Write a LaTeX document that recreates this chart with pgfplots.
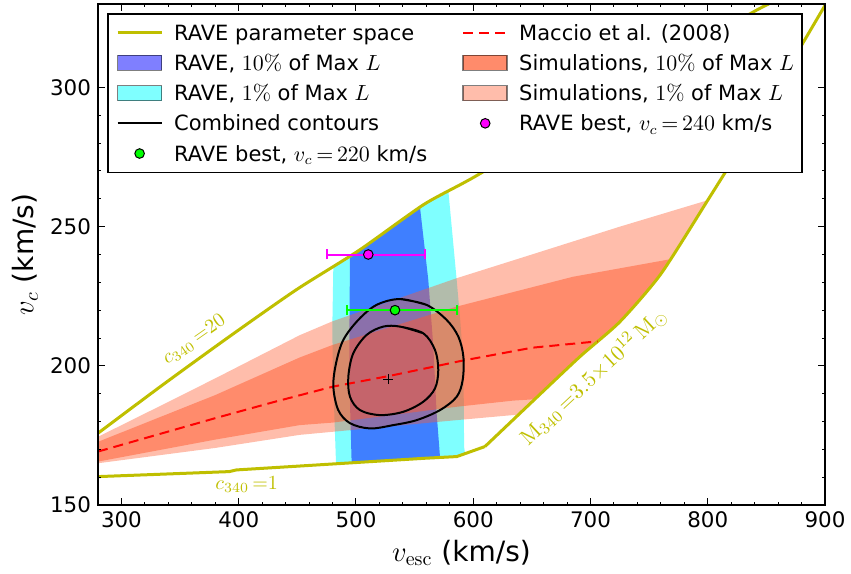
\documentclass[border=0pt]{standalone}
\usepackage[no-math]{fontspec}
\setmainfont{DejaVu Sans}
\usepackage{pgfplots}
\pgfplotsset{compat=1.18}
\definecolor{yel}{RGB}{191,191,0}
\definecolor{simc}{RGB}{255,90,45}
\definecolor{cyanc}{RGB}{0,255,255}
\definecolor{bluec}{RGB}{0,0,255}
\definecolor{magc}{RGB}{255,0,255}
\definecolor{greenc}{RGB}{0,255,0}
\definecolor{redc}{RGB}{255,0,0}
\pgfplotsset{
  linelegend/.style={legend image code/.code={\draw[##1] (0pt,0pt) -- (22pt,0pt);}},
  arealegend/.style={legend image code/.code={\draw[##1] (0pt,-3.75pt) rectangle (22pt,3.75pt);}},
  marklegend/.style={legend image code/.code={\path[draw=none,fill=none] (0pt,-3.75pt) rectangle (22pt,3.75pt); \draw[##1] plot coordinates {(11pt,0pt)};}},
}
\begin{document}
\begin{tikzpicture}
\begin{axis}[
  scale only axis, width=363.5pt, height=250.5pt,
  xmin=280, xmax=900, ymin=150, ymax=330,
  xtick={300,400,...,900}, ytick={150,200,250,300},
  minor x tick num=4, minor y tick num=4,
  tick align=inside, tick pos=both,
  major tick length=3.5pt, minor tick length=1.75pt,
  every tick/.style={black, line width=0.5pt},
  axis line style={line width=1pt},
  axis on top,
  ticklabel style={font=\fontsize{10.7}{12}\selectfont},
  /pgf/number format/assume math mode=true,
  label style={font=\fontsize{14}{16}\selectfont},
  xlabel={$v_{\mathrm{esc}}$ (km/s)},
  ylabel={$v_c$ (km/s)},
  xlabel style={at={(axis description cs:0.5,0)}, anchor=center, yshift=-24pt},
  ylabel style={at={(axis description cs:-0.1004,0.5)}, anchor=center},
  legend columns=2, legend cell align=left,
  legend style={
    at={(axis description cs:0.0128,0.982)}, anchor=north west,
    draw=black, line width=0.8pt,
    inner xsep=4pt, inner ysep=4.2pt,
    font=\fontsize{10.5}{12}\selectfont,
    nodes={inner sep=0pt, text height=9pt, text depth=1.5pt},
    row sep=4.6pt,
    /tikz/column 1/.append style={column sep=5.5pt},
    /tikz/column 2/.append style={column sep=17.5pt},
    /tikz/column 3/.append style={column sep=5.5pt},
  },
]
% ---- legend (row-wise order) ----
\addlegendimage{linelegend, yel, line width=1.5pt}
\addlegendentry{RAVE parameter space}
\addlegendimage{linelegend, redc, dash pattern=on 5pt off 3pt, line width=1pt}
\addlegendentry{Maccio et al. (2008)}
\addlegendimage{arealegend, fill=bluec, fill opacity=0.5, draw=black, draw opacity=0.5, line width=0.8pt}
\addlegendentry{RAVE, $10\%$ of Max $L$}
\addlegendimage{arealegend, fill=simc, fill opacity=0.7, draw=black, draw opacity=0.5, line width=0.8pt}
\addlegendentry{Simulations, $10\%$ of Max $L$}
\addlegendimage{arealegend, fill=cyanc, fill opacity=0.5, draw=black, draw opacity=0.5, line width=0.8pt}
\addlegendentry{RAVE, $1\%$ of Max $L$}
\addlegendimage{arealegend, fill=simc, fill opacity=0.4, draw=black, draw opacity=0.5, line width=0.8pt}
\addlegendentry{Simulations, $1\%$ of Max $L$}
\addlegendimage{linelegend, black, line width=1pt}
\addlegendentry{Combined contours}
\addlegendimage{marklegend, mark=*, mark size=2.4pt, mark options={fill=magc, draw=black, line width=0.5pt}}
\addlegendentry{RAVE best, $v_c\,{=}\,240$ km/s}
\addlegendimage{marklegend, mark=*, mark size=2.4pt, mark options={fill=greenc, draw=black, line width=0.5pt}}
\addlegendentry{RAVE best, $v_c\,{=}\,220$ km/s}

% ---- RAVE 1% (cyan) ----
\addplot[forget plot, fill=cyanc, fill opacity=0.5, draw=none] coordinates {
 (480.7,235.7) (479.8,213) (480.5,195) (481.5,183) (483,164.8) (559,166.8) (586,167.4)
 (593,168.5) (592.2,171) (592,185) (591.6,201) (589,216) (585.9,230.8) (578.8,262.8)
 (558,258) (503,241.6)} -- cycle;
% ---- RAVE 10% (blue) ----
\addplot[forget plot, fill=bluec, fill opacity=0.5, draw=none] coordinates {
 (494.9,239.5) (494.3,206.9) (495,185) (496.3,165.2) (559,166.8) (571.7,167.1)
 (568.8,183) (566,206.9) (561.7,230.8) (554.6,257) (503,241.6)} -- cycle;
% ---- Simulations 1% ----
\addplot[forget plot, fill=simc, fill opacity=0.4, draw=none] coordinates {
 (280,174.5) (335,186) (380,195.5) (452,211) (480,216) (586,231.5) (650,240) (725,250) (800,259.5)
 (760,233) (725,215.8) (691,203.3) (650,187) (639,182.5)
 (586,180.5) (480,176.3) (452,175.2) (380,170.5) (280,165)} -- cycle;
% ---- Simulations 10% ----
\addplot[forget plot, fill=simc, fill opacity=0.5, draw=none] coordinates {
 (280,172.7) (380,189.5) (452,203) (480,207.5) (586,221.3) (685,232) (768,238.3)
 (760,233) (725,215.8) (691,203.3) (652.5,188)
 (634,187.5) (586,185.3) (480,179.6) (452,178.7) (380,173.5) (280,165.6)} -- cycle;
% ---- parameter space ----
\addplot[forget plot, yel, line width=1.5pt, smooth, tension=0.4] coordinates {
 (280,175.8) (335,193.1) (392,210.5) (449,227.3) (503,241.6) (558,258) (601.5,268)
 (700,292.5) (780,312.5) (837,326.7) (852,330)};
\addplot[forget plot, yel, line width=1.5pt] coordinates {
 (280,160.2) (330,161) (392,162) (398,162.6) (452,164) (559,166.8) (586,167.4) (610,171)};
\addplot[forget plot, yel, line width=1.5pt, smooth, tension=0.4] coordinates {
 (610,171) (650,187) (691,203.3) (725,215.8) (760,233) (800,259.5) (840,286.5) (870,308) (900,329.5)};
% ---- Maccio ----
\addplot[forget plot, redc, line width=1pt, dash pattern=on 5pt off 3pt] coordinates {
 (280,169.2) (330,175.2) (380,181.2) (430,187) (480,192.5) (530,196.5) (590,201.8) (650,206.5) (706,208.8)};
% ---- combined contours ----
\addplot[forget plot, black, line width=1pt, smooth, tension=0.55] coordinates {
 (537.5,224.0) (560.2,221.9) (577.3,216.5) (587.3,210.5) (591.6,203.3) (591.0,194.9) (585.9,188.9)
 (571.7,184.1) (551.8,180.5) (531.8,178.7) (512.0,177.5) (494.9,179.4) (484.9,184.1) (480.7,192.5)
 (483.0,200.9) (489.2,209.3) (502.0,216.5) (517.6,221.9) (537.5,224.0) (560.2,221.9)};
\addplot[forget plot, black, line width=1pt, smooth, tension=0.55] coordinates {
 (537.5,214.1) (557.4,211.7) (567.4,205.7) (570.2,198.5) (567.4,191.9) (557.4,187.1) (540.4,183.5)
 (520.5,182.3) (503.4,184.1) (494.9,188.9) (493.5,196.1) (497.7,204.5) (509.1,211.1) (523.3,214.1)
 (537.5,214.1) (557.4,211.7)};
\addplot[forget plot, only marks, mark=+, mark size=2.5pt, black, line width=0.4pt] coordinates {(527.6,195.2)};
% ---- best points ----
\addplot[forget plot, only marks, mark=*, mark size=2.4pt, mark options={fill=magc, draw=black, line width=0.5pt},
  error bars/.cd, x dir=both, x explicit,
  error bar style={magc, line width=1pt},
  error mark options={magc, line width=1pt, mark size=2.5pt, rotate=90}]
  coordinates {(510.5,240) += (48.4,0) -= (34.9,0)};
\addplot[forget plot, only marks, mark=*, mark size=2.4pt, mark options={fill=greenc, draw=black, line width=0.5pt},
  error bars/.cd, x dir=both, x explicit,
  error bar style={greenc, line width=1pt},
  error mark options={greenc, line width=1pt, mark size=2.5pt, rotate=90}]
  coordinates {(533.3,220) += (53.1,0) -= (41.3,0)};
% ---- annotations ----
\node[text=yel, rotate=35, font=\fontsize{10}{12}\selectfont] at (axis cs:362,209.3) {$c_{340}\,{=}20$};
\node[text=yel, font=\fontsize{10}{12}\selectfont] at (axis cs:406.8,157.2) {$c_{340}\,{=}1$};
\node[text=yel, rotate=43, font=\fontsize{10.8}{12}\selectfont] at (axis cs:702.4,196.1) {$\mathrm{M}_{340}\,{=}3.5{\times}10^{12}\,\mathrm{M}_{\odot}$};
\end{axis}
\pgfresetboundingbox
\path[use as bounding box] ([xshift=-49pt,yshift=-34pt]current axis.south west) rectangle ([xshift=13pt,yshift=2pt]current axis.north east);
\end{tikzpicture}
\end{document}
